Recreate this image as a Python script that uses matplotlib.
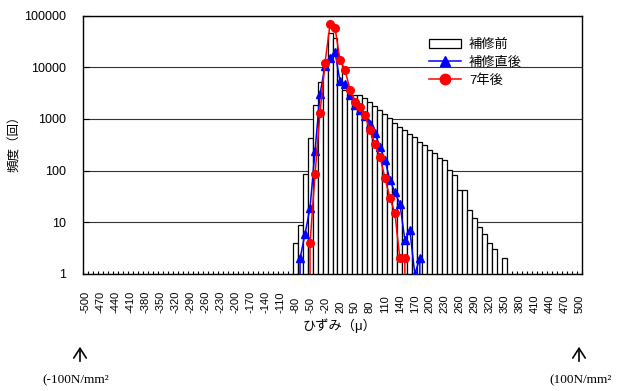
import numpy as np
import matplotlib
matplotlib.use("Agg")
import matplotlib.pyplot as plt
from matplotlib.lines import Line2D
from matplotlib.patches import Patch

plt.rcParams['font.family'] = ['Liberation Sans', 'Noto Sans CJK JP']

# strain classes (micro strain), no zero class
strain = list(range(-500, 0, 10)) + list(range(10, 501, 10))

# frequency before repair
before = [0] * 42 + [
    4, 9, 86, 420, 1850, 5200, 11900, 45000,
    36000, 12000, 3600, 2900, 2900, 2900, 2500, 2150, 1800, 1490,
    1230, 1030, 850, 700, 600, 510, 445, 360, 310, 250,
    215, 175, 160, 102, 82, 42, 42, 17, 12, 8,
    6, 4, 3, 0, 2,
] + [0] * 15

# frequency just after repair
after_x = list(range(-80, 0, 10)) + list(range(10, 200, 10))
after = [0, 2, 6, 19, 243, 3000, 10700, 15200,
         19900, 5300, 4800, 2900, 1850, 1490, 1150, 800, 525, 290,
         160, 66, 38, 23, 4.6, 7, 1, 2, 0]

# frequency 7 years later
year7_x = list(range(-60, 0, 10)) + list(range(10, 170, 10))
year7 = [0, 4, 85, 1320, 12200, 67000,
         58000, 13800, 8900, 3700, 2150, 1720, 1190, 600, 330, 185,
         73, 30, 15, 2, 2, 0]

W, H = 617, 391
fig = plt.figure(figsize=(W / 100, H / 100), dpi=100)
ax = fig.add_axes([83 / W, 1 - 274 / H, 499 / W, 258.5 / H])

pos = np.arange(len(strain))
ax.bar(pos, before, width=1.0, color='white', edgecolor='black', linewidth=0.9, zorder=2)

ax.plot([strain.index(v) for v in after_x], after, color='#0000ff', lw=1.1,
        marker='^', markersize=5.5, zorder=3)
ax.plot([strain.index(v) for v in year7_x], year7, color='#ff0000', lw=1.1,
        marker='o', markersize=5.5, zorder=4)

ax.set_yscale('log')
ax.set_ylim(1, 100000)
ax.set_xlim(-0.5, len(strain) - 0.5)
ax.set_yticks([1, 10, 100, 1000, 10000, 100000])
ax.set_yticklabels(['1', '10', '100', '1000', '10000', '100000'])
ax.yaxis.set_minor_locator(matplotlib.ticker.NullLocator())
ax.yaxis.grid(True, color='#333333', lw=0.8, zorder=1)
ax.set_axisbelow(True)
ax.tick_params(axis='y', which='major', direction='in', length=4, labelsize=9, pad=12)

ax.set_xticks(pos[::3])
ax.set_xticklabels([str(v) for v in strain[::3]])
ax.set_xticks(np.arange(-0.5, len(strain), 1), minor=True)
ax.tick_params(axis='x', which='major', length=0, labelsize=8, labelrotation=90, pad=28)
ax.tick_params(axis='x', which='minor', direction='in', length=2.5, width=0.8)
for lbl in ax.get_xticklabels():
    lbl.set_verticalalignment('bottom')

for s in ax.spines.values():
    s.set_linewidth(1.0)
    s.set_color('black')

handles = [
    Patch(facecolor='white', edgecolor='black', linewidth=0.9),
    Line2D([], [], color='#0000ff', lw=1.1, marker='^', markersize=7.5),
    Line2D([], [], color='#ff0000', lw=1.1, marker='o', markersize=7.5),
]
ax.legend(handles, ['補修前', '補修直後', '7年後'], loc='upper left',
          bbox_to_anchor=(0.681, 0.935), frameon=False, fontsize=9.5,
          borderpad=0, handlelength=2.4, handletextpad=0.6, labelspacing=0.4)

fig.text(15 / W, 1 - 141 / H, '頻度（回）', rotation=90, fontsize=9,
         ha='center', va='center')
fig.text(340 / W, 1 - 326 / H, 'ひずみ（μ）', fontsize=9.5, ha='center', va='center')

# stress equivalents under the axis ends
for xp in (80, 579):
    fig.add_artist(matplotlib.patches.FancyArrowPatch(
        (xp / W, 1 - 364 / H), (xp / W, 1 - 344 / H), transform=fig.transFigure,
        arrowstyle='->,head_length=7,head_width=4.5', lw=1.2, color='black'))
fig.text(42 / W, 1 - 380 / H, '(-100N/mm²', family='Liberation Serif', fontsize=9.5,
         ha='left', va='center')
fig.text(612 / W, 1 - 380 / H, '(100N/mm²', family='Liberation Serif', fontsize=9.5,
         ha='right', va='center')

fig.savefig('out.png', dpi=100)
